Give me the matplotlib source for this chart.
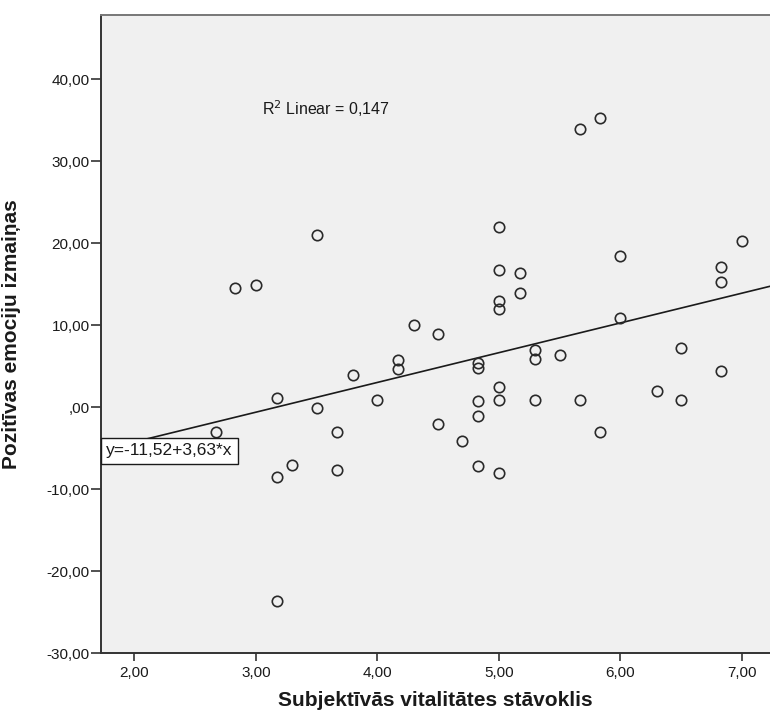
import numpy as np
import matplotlib.pyplot as plt

plt.rcParams['font.family'] = ['Liberation Sans', 'DejaVu Sans']

# data
vitality = [2.67, 2.83, 3.00, 3.17, 3.17, 3.17, 3.30, 3.50, 3.50, 3.67,
            3.67, 3.80, 4.00, 4.17, 4.17, 4.30, 4.50, 4.50, 4.70, 4.83,
            4.83, 4.83, 4.83, 4.83, 5.00, 5.00, 5.00, 5.00, 5.00, 5.00,
            5.00, 5.17, 5.17, 5.30, 5.30, 5.30, 5.50, 5.67, 5.67, 5.83,
            5.83, 6.00, 6.00, 6.30, 6.50, 6.50, 6.83, 6.83, 6.83, 7.00]
emotion_change = [-3.1, 14.5, 14.9, 1.1, -8.5, -23.6, -7.1, 21.0, -0.1, -3.1,
                  -7.7, 3.9, 0.9, 5.7, 4.6, 10.0, 8.9, -2.1, -4.1, 5.4,
                  4.7, 0.7, -1.1, -7.2, 21.9, 16.7, 12.9, 11.9, 2.5, 0.9,
                  -8.1, 16.3, 13.9, 7.0, 5.9, 0.9, 6.4, 33.9, 0.8, 35.3,
                  -3.1, 18.4, 10.9, 1.9, 7.2, 0.9, 17.1, 15.2, 4.4, 20.3]

intercept = -11.52
slope = 3.63
r_squared = 0.147

x_ticks = [2, 3, 4, 5, 6, 7]
y_ticks = [-30, -20, -10, 0, 10, 20, 30, 40]


def fmt(v):
    # SPSS style: two decimals with comma, ",00" for zero
    s = f"{v:.2f}".replace('.', ',')
    return s[1:] if s.startswith('0,') else s


fig = plt.figure(figsize=(7.7, 7.18), dpi=100)
ax = fig.add_axes([0.1318, 0.0905, 0.8682, 0.8885])
ax.set_facecolor('#f0f0f0')

xlim = (1.73, 7.23)
ax.set_xlim(*xlim)
ax.set_ylim(-30, 47.8)

# fit line across the whole x range
xs = np.array(xlim)
ax.plot(xs, intercept + slope * xs, color='#1a1a1a', lw=1.2, zorder=2)

ax.plot(vitality, emotion_change, 'o', mfc='none', mec='#2a2a2a',
        mew=1.2, ms=7.5, zorder=3)

ax.set_xticks(x_ticks)
ax.set_xticklabels([fmt(v) for v in x_ticks])
ax.set_yticks(y_ticks)
ax.set_yticklabels([fmt(v) for v in y_ticks])
ax.tick_params(direction='out', width=1.2, labelsize=11,
               color='#333333', labelcolor='#1a1a1a')
ax.tick_params(axis='y', length=7.5, pad=1)
ax.tick_params(axis='x', length=5.5, pad=4)

for side in ['left', 'bottom', 'top']:
    ax.spines[side].set_color('#333333')
    ax.spines[side].set_linewidth(1.4)
ax.spines['top'].set_color('#777777')
ax.spines['right'].set_visible(False)

ax.set_xlabel('Subjektīvās vitalitātes stāvoklis', fontsize=15,
              fontweight='bold', color='#1a1a1a')
ax.xaxis.set_label_coords(0.5, -0.059)
ax.set_ylabel('Pozitīvas emociju izmaiņas', fontsize=15,
              fontweight='bold', color='#1a1a1a')
ax.yaxis.set_label_coords(-0.12, 0.5)

ax.text(0.24, 0.854, 'R$^2$ Linear = ' + f"{r_squared:.3f}".replace('.', ','),
        transform=ax.transAxes, fontsize=11.5, va='center', ha='left',
        color='#1a1a1a')

eq = f"y={intercept:.2f}+{slope:.2f}*x".replace('.', ',')
ax.text(0.007, 0.317, eq, transform=ax.transAxes, fontsize=12.5,
        va='center', ha='left', color='#1a1a1a', zorder=4,
        bbox=dict(boxstyle='square,pad=0.3', fc='white', ec='#1a1a1a', lw=1))

plt.savefig('out.png', dpi=100)
